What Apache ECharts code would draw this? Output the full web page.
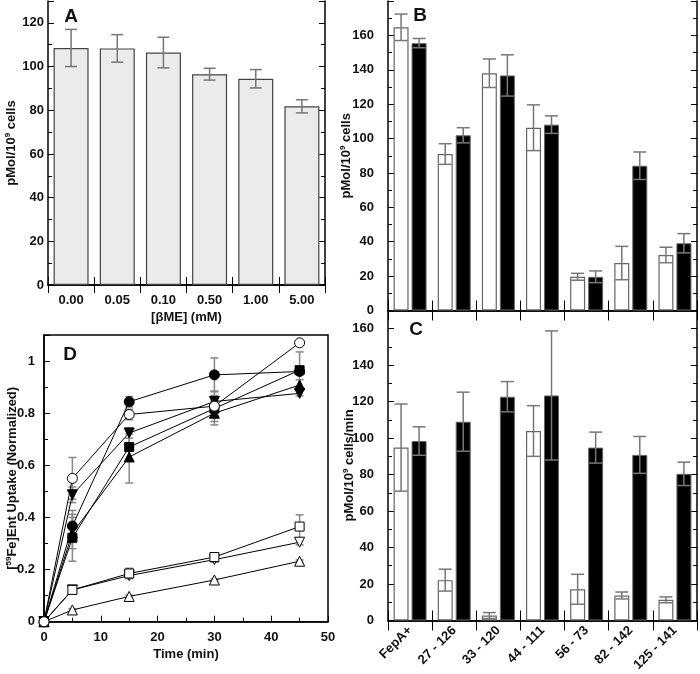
<!DOCTYPE html>
<html><head><meta charset="utf-8">
<script src="https://cdn.jsdelivr.net/npm/echarts@6/dist/echarts.min.js"></script>
<style>html,body{margin:0;padding:0;background:#fff}#c{width:700px;height:674px}</style>
</head><body><div id="c"></div>
<script>
// ---- Panel A ----
const aCats = ['0.00','0.05','0.10','0.50','1.00','5.00'];
const aVals = [108.5,108.3,106.4,96.5,94.4,81.8];
const aErr  = [8.5,6.3,7.0,2.7,4.2,3.0];
// ---- Panels B and C ----
const bcCats = ['FepA+','27 - 126','33 - 120','44 - 111','56 - 73','82 - 142','125 - 141'];
const bWhite = [164.7,91.0,138.0,106.3,19.6,27.6,32.3];
const bWhiteErr = [7.7,6.0,8.3,13.3,2.0,9.7,4.5];
const bBlack = [155.5,101.9,136.7,108.1,19.6,84.2,39.1];
const bBlackErr = [2.7,4.4,12.0,5.1,3.4,8.0,5.6];
const cWhite = [94.8,22.1,2.7,103.9,17.1,13.7,11.3];
const cWhiteErr = [23.9,6.0,1.6,13.9,8.2,1.9,1.6];
const cBlack = [98.4,109.0,122.7,123.4,94.8,90.8,80.4];
const cBlackErr = [7.8,16.2,8.3,35.4,8.5,10.1,6.4];
// ---- Panel D ----
const dTimes = [0,5,15,30,45];
const openCircle   = [0,0.55,0.795,0.827,1.07];
const filledCircle = [0,0.367,0.844,0.947,0.96];
const filledDown   = [0,0.487,0.724,0.845,0.876];
const filledSquare = [0,0.322,0.67,0.818,0.965];
const filledUp     = [0,0.34,0.632,0.8,0.908];
const openSquare   = [0,0.122,0.185,0.248,0.365];
const openDown     = [0,0.122,0.177,0.238,0.305];
const openUp       = [0,0.045,0.097,0.16,0.232];
const openCircleErr   = [0,0.08,0.02,0.03,0];
const filledCircleErr = [0,0.06,0.02,0.065,0];
const filledDownErr   = [0,0.03,0.02,0.04,0.01];
const filledSquareErr = [0,0.09,0.05,0.05,0.07];
const filledUpErr     = [0,0.06,0.1,0.045,0.02];
const openSquareErr   = [0,0.01,0.02,0.01,0.045];
const openDownErr     = [0,0.01,0.01,0.01,0.01];
const openUpErr       = [0,0.005,0.005,0.005,0.005];

const FF = "'Liberation Sans', Arial, sans-serif";
const lbl = {fontFamily: FF, fontWeight: 'bold', fontSize: 13, color: '#111'};
const axLine = {show: true, lineStyle: {color: '#000', width: 1.5}};

function valY(gi, min, max, interval, pos, showLabels, margin, extra) {
  return Object.assign({
    type: 'value', gridIndex: gi, min, max, interval, position: pos,
    axisLine: axLine,
    axisTick: {show: true, inside: true, length: 6, lineStyle: {color: '#000', width: 1}},
    minorTick: {show: true, splitNumber: 2, length: 4, lineStyle: {color: '#000', width: 1}},
    splitLine: {show: false}, minorSplitLine: {show: false},
    axisLabel: Object.assign({show: showLabels, margin, showMaxLabel: false}, lbl)
  }, extra || {});
}
function catX(gi, cats, pos, showLabels, tickLen, labelExtra) {
  return {
    type: 'category', gridIndex: gi, data: cats, position: pos,
    axisLine: axLine,
    axisTick: {show: true, inside: true, length: tickLen, alignWithLabel: false, lineStyle: {color: '#000', width: 1}},
    axisLabel: Object.assign({show: showLabels, margin: 9, interval: 0}, lbl, labelExtra || {}),
    splitLine: {show: false}
  };
}
function errBars(xi, yi, xs, vals, errs, offset, capHalf, color, width, z) {
  return {
    type: 'custom', xAxisIndex: xi, yAxisIndex: yi, z, silent: true,
    data: vals.map((v, i) => [xs[i], v, errs[i]]),
    encode: {x: 0, y: 1},
    renderItem(params, api) {
      const e = api.value(2);
      if (!e) return null;
      const x = api.value(0), v = api.value(1);
      const hi = api.coord([x, v + e]), lo = api.coord([x, v - e]);
      const cx = hi[0] + offset;
      const st = {stroke: color, lineWidth: width};
      return {type: 'group', children: [
        {type: 'line', shape: {x1: cx, y1: hi[1], x2: cx, y2: lo[1]}, style: st},
        {type: 'line', shape: {x1: cx - capHalf, y1: hi[1], x2: cx + capHalf, y2: hi[1]}, style: st},
        {type: 'line', shape: {x1: cx - capHalf, y1: lo[1], x2: cx + capHalf, y2: lo[1]}, style: st}
      ]};
    }
  };
}
const idx = a => a.map((_, i) => i);

const titleRich = {
  a: {fontFamily: FF, fontWeight: 'bold', fontSize: 13, color: '#111'},
  s: {fontFamily: FF, fontWeight: 'bold', fontSize: 8, color: '#111', padding: [0, 0, 7, 0]}
};
const yName = (text, gap) => ({name: text, nameLocation: 'middle', nameGap: gap, nameRotate: 90,
  nameMoveOverlap: false, nameTextStyle: {rich: titleRich}});

const chart = echarts.init(document.getElementById('c'), null, {renderer: 'canvas'});
const option = {
  animation: false,
  backgroundColor: '#fff',
  grid: [
    {left: 48, top: 1, width: 277, height: 284},
    {left: 388, top: 1, width: 309, height: 309.5},
    {left: 388, top: 310.5, width: 309, height: 311.2},
    {left: 44, top: 335, width: 284, height: 286.7, show: true, borderColor: '#000', borderWidth: 1.5}
  ],
  xAxis: [
    Object.assign(catX(0, aCats, 'bottom', true, 8), {name: '[βME] (mM)', nameLocation: 'middle', nameGap: 26, nameMoveOverlap: false, nameTextStyle: {fontFamily: FF, fontWeight: 'bold', fontSize: 13, color: '#111'}}),
    catX(0, aCats, 'top', false, 8),
    catX(1, bcCats, 'bottom', false, 10),
    catX(1, bcCats, 'top', false, 10),
    catX(2, bcCats, 'bottom', true, 10, {rotate: 45, margin: 8}),
    catX(2, bcCats, 'top', false, 10),
    {type: 'value', gridIndex: 3, min: 0, max: 50, interval: 10, position: 'bottom',
     axisLine: axLine,
     axisTick: {show: true, inside: true, length: 6, lineStyle: {color: '#000'}},
     minorTick: {show: true, splitNumber: 2, length: 4, lineStyle: {color: '#000'}},
     splitLine: {show: false},
     axisLabel: Object.assign({margin: 9}, lbl),
     name: 'Time (min)', nameLocation: 'middle', nameGap: 26, nameMoveOverlap: false,
     nameTextStyle: {fontFamily: FF, fontWeight: 'bold', fontSize: 13, color: '#111'}}
  ],
  yAxis: [
    valY(0, 0, 130, 20, 'left', true, 4, yName('{a|pMol/10}{s|9}{a| cells}', 29)),
    valY(0, 0, 130, 20, 'right', false, 4),
    valY(1, 0, 180, 20, 'left', true, 14, yName('{a|pMol/10}{s|9}{a| cells}', 34)),
    valY(1, 0, 180, 20, 'right', false, 4),
    valY(2, 0, 170, 20, 'left', true, 14, yName('{a|pMol/10}{s|9}{a| cells/min}', 31)),
    valY(2, 0, 170, 20, 'right', false, 4),
    valY(3, 0, 1.1, 0.2, 'left', true, 9, Object.assign(yName('{a|[}{s|59}{a|Fe]Ent Uptake (Normalized)}', 24), {
      axisLabel: Object.assign({margin: 9, showMaxLabel: false, formatter: v => String(Math.round(v * 10) / 10)}, lbl)
    }))
  ],
  graphic: [
    {type: 'text', x: 71, y: 17, style: {text: 'A', font: "bold 19px 'Liberation Sans', Arial", fill: '#111', align: 'center', verticalAlign: 'middle'}},
    {type: 'text', x: 420, y: 16, style: {text: 'B', font: "bold 19px 'Liberation Sans', Arial", fill: '#111', align: 'center', verticalAlign: 'middle'}},
    {type: 'text', x: 416, y: 330, style: {text: 'C', font: "bold 19px 'Liberation Sans', Arial", fill: '#111', align: 'center', verticalAlign: 'middle'}},
    {type: 'text', x: 70, y: 355, style: {text: 'D', font: "bold 19px 'Liberation Sans', Arial", fill: '#111', align: 'center', verticalAlign: 'middle'}}
  ],
  series: [
    {type: 'bar', xAxisIndex: 0, yAxisIndex: 0, data: aVals, barWidth: 35, z: 2,
     itemStyle: {color: '#ebebeb', borderColor: '#444', borderWidth: 1.2}},
    errBars(0, 0, idx(aVals), aVals, aErr, 0, 6, '#777', 1.5, 3),

    {type: 'bar', xAxisIndex: 2, yAxisIndex: 2, data: bWhite, barWidth: 15, barGap: '20%', z: 2,
     itemStyle: {color: '#fff', borderColor: '#666', borderWidth: 1.2}},
    {type: 'bar', xAxisIndex: 2, yAxisIndex: 2, data: bBlack, barWidth: 15, barGap: '20%', z: 2,
     itemStyle: {color: '#000', borderColor: '#666', borderWidth: 1}},
    errBars(2, 2, idx(bWhite), bWhite, bWhiteErr, -9, 6.5, '#777', 1.5, 3),
    errBars(2, 2, idx(bBlack), bBlack, bBlackErr, 9, 6.5, '#777', 1.5, 3),

    {type: 'bar', xAxisIndex: 4, yAxisIndex: 4, data: cWhite, barWidth: 15, barGap: '20%', z: 2,
     itemStyle: {color: '#fff', borderColor: '#666', borderWidth: 1.2}},
    {type: 'bar', xAxisIndex: 4, yAxisIndex: 4, data: cBlack, barWidth: 15, barGap: '20%', z: 2,
     itemStyle: {color: '#000', borderColor: '#666', borderWidth: 1}},
    errBars(4, 4, idx(cWhite), cWhite, cWhiteErr, -9, 6.5, '#777', 1.5, 3),
    errBars(4, 4, idx(cBlack), cBlack, cBlackErr, 9, 6.5, '#777', 1.5, 3),

    errBars(6, 6, dTimes, openCircle, openCircleErr, 0, 4, '#888', 1.5, 1),
    errBars(6, 6, dTimes, filledCircle, filledCircleErr, 0, 4, '#888', 1.5, 1),
    errBars(6, 6, dTimes, filledDown, filledDownErr, 0, 4, '#888', 1.5, 1),
    errBars(6, 6, dTimes, filledSquare, filledSquareErr, 0, 4, '#888', 1.5, 1),
    errBars(6, 6, dTimes, filledUp, filledUpErr, 0, 4, '#888', 1.5, 1),
    errBars(6, 6, dTimes, openSquare, openSquareErr, 0, 4, '#888', 1.5, 1),
    errBars(6, 6, dTimes, openDown, openDownErr, 0, 4, '#888', 1.5, 1),
    errBars(6, 6, dTimes, openUp, openUpErr, 0, 4, '#888', 1.5, 1)
  ].concat([
    [openUp, 'triangle', 0, false],
    [openDown, 'triangle', 180, false],
    [openSquare, 'rect', 0, false],
    [filledUp, 'triangle', 0, true],
    [filledSquare, 'rect', 0, true],
    [filledDown, 'triangle', 180, true],
    [filledCircle, 'circle', 0, true],
    [openCircle, 'circle', 0, false]
  ].map(([vals, sym, rot, filled]) => ({
    type: 'line', xAxisIndex: 6, yAxisIndex: 6, z: 4,
    data: vals.map((v, i) => [dTimes[i], v]),
    symbol: sym, symbolRotate: rot, symbolSize: sym === 'rect' ? 9 : 10, showAllSymbol: true,
    lineStyle: {color: '#000', width: 1},
    itemStyle: {color: filled ? '#000' : '#fff', borderColor: '#000', borderWidth: 1}
  })))
};
chart.setOption(option);
</script></body></html>
